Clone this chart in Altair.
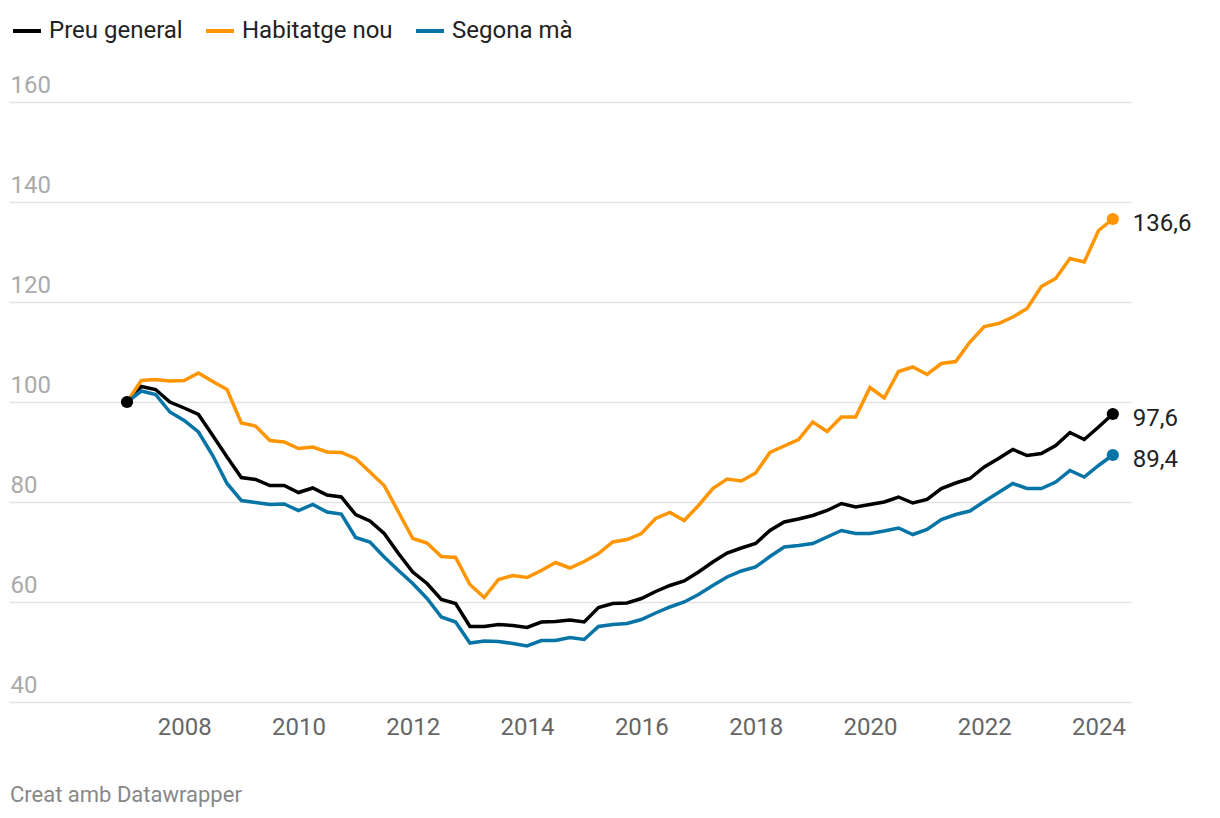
import altair as alt
import pandas as pd

series_names = ["Preu general", "Habitatge nou", "Segona mà"]
series_colors = ["#000000", "#ff9500", "#0774a6"]

# quarterly index, 2007 Q1 .. 2024 Q2
start_year = 2007

preu_general = [100, 103.1, 102.5, 100.0, 98.8, 97.5, 93.3, 89.0, 84.9, 84.5, 83.3, 83.3, 81.9, 82.8, 81.4, 81.0,
                77.5, 76.2, 73.7, 69.7, 66.0, 63.7, 60.5, 59.7, 55.1, 55.1, 55.5, 55.3, 54.9, 56.0, 56.1, 56.4,
                56.0, 58.9, 59.7, 59.8, 60.7, 62.1, 63.3, 64.2, 66.0, 68.0, 69.8, 70.8, 71.7, 74.3, 76.0, 76.6,
                77.3, 78.3, 79.7, 79.0, 79.5, 80.0, 81.0, 79.8, 80.5, 82.7, 83.8, 84.7, 87.0, 88.7, 90.5, 89.3,
                89.7, 91.3, 93.9, 92.5, 95.0, 97.6]
habitatge_nou = [100, 104.3, 104.5, 104.2, 104.3, 105.8, 104.1, 102.5, 95.8, 95.2, 92.3, 92.0, 90.7, 91.0, 90.0, 89.9,
                 88.7, 86.0, 83.3, 78.0, 72.7, 71.8, 69.1, 68.9, 63.5, 60.9, 64.5, 65.3, 64.9, 66.3, 67.9, 66.8,
                 68.1, 69.7, 72.0, 72.5, 73.7, 76.7, 77.9, 76.3, 79.3, 82.7, 84.6, 84.2, 85.8, 89.9, 91.2, 92.5,
                 96.0, 94.1, 97.0, 97.0, 102.9, 100.8, 106.1, 107.0, 105.5, 107.7, 108.1, 112.0, 115.1, 115.7, 117.0, 118.7,
                 123.1, 124.7, 128.7, 128.0, 134.3, 136.6]
segona_ma = [100, 102.2, 101.5, 98.0, 96.3, 94.0, 89.3, 83.7, 80.3, 79.9, 79.5, 79.6, 78.3, 79.5, 78.0, 77.6,
             72.9, 72.0, 69.0, 66.3, 63.7, 60.7, 57.0, 56.0, 51.8, 52.2, 52.1, 51.7, 51.2, 52.3, 52.3, 52.9,
             52.5, 55.1, 55.5, 55.7, 56.5, 57.8, 59.0, 60.0, 61.5, 63.3, 65.0, 66.2, 67.0, 69.1, 71.0, 71.3,
             71.7, 73.0, 74.3, 73.7, 73.7, 74.2, 74.8, 73.5, 74.5, 76.5, 77.5, 78.2, 80.1, 81.9, 83.7, 82.7,
             82.7, 84.0, 86.3, 85.0, 87.3, 89.4]

y_ticks = [40, 60, 80, 100, 120, 140, 160]
x_ticks = [2008, 2010, 2012, 2014, 2016, 2018, 2020, 2022, 2024]
credit = "Creat amb Datawrapper"

rows = []
for name, vals in zip(series_names, [preu_general, habitatge_nou, segona_ma]):
    for i, v in enumerate(vals):
        pos = "first" if i == 0 else ("last" if i == len(vals) - 1 else "")
        rows.append({"t": start_year + i * 0.25, "serie": name, "value": v, "pos": pos,
                     "label": f"{v:.1f}".replace(".", ",")})
df = pd.DataFrame(rows)

FONT = "Roboto"
x_enc = alt.X("t:Q", scale=alt.Scale(domain=[2004.935, 2024.568], nice=False, zero=False),
              axis=alt.Axis(values=x_ticks, format="d", grid=False, domain=False, ticks=False,
                            labelFontSize=24, labelColor="#666666", labelFont=FONT, labelPadding=13,
                            title=None))
y_enc = alt.Y("value:Q", scale=alt.Scale(domain=[40, 160], nice=False, zero=False),
              axis=alt.Axis(values=y_ticks, grid=True, gridColor="#e3e3e3", gridWidth=1.6,
                            domain=False, ticks=False, labelAlign="left", labelBaseline="alphabetic",
                            labelPadding=-1, labelOffset=-10, labelFontSize=24, labelColor="#aaaaaa",
                            labelFont=FONT, title=None))
color_scale = alt.Scale(domain=series_names, range=series_colors)

base = alt.Chart(df)

lines = base.mark_line(strokeWidth=3.5).encode(
    x=x_enc, y=y_enc,
    color=alt.Color("serie:N", scale=color_scale,
                    legend=alt.Legend(orient="none", legendX=2, legendY=-87, direction="horizontal",
                                      title=None, symbolType="stroke", symbolStrokeWidth=4,
                                      symbolSize=784, labelFontSize=24, labelFont=FONT,
                                      labelColor="#222222", labelOffset=6, columnPadding=15,
                                      labelLimit=400, padding=0)),
    order=alt.Order("t:Q"),
)

start_dot = base.transform_filter(
    (alt.datum.pos == "first") & (alt.datum.serie == "Preu general")
).mark_circle(size=150, opacity=1).encode(x=x_enc, y=y_enc,
                                          color=alt.Color("serie:N", scale=color_scale, legend=None))

end_dots = base.transform_filter(alt.datum.pos == "last").mark_circle(size=150, opacity=1).encode(
    x=x_enc, y=y_enc, color=alt.Color("serie:N", scale=color_scale, legend=None))

end_labels = base.transform_filter(alt.datum.pos == "last").mark_text(
    align="left", baseline="middle", dx=20, dy=5, fontSize=24, font=FONT, color="#222222"
).encode(x=x_enc, y=y_enc, text="label:N")

chart = alt.layer(lines, start_dot, end_dots, end_labels).properties(
    width=1122, height=600,
    autosize=alt.AutoSizeParams(type="none"),
    padding={"left": 1, "top": 94, "right": 78, "bottom": 110},
    title=alt.TitleParams(credit, orient="bottom", anchor="start", fontSize=22, font=FONT,
                          fontWeight="normal", color="#888888", offset=46, dx=1),
).configure(background="white").configure_view(strokeWidth=0, stroke="transparent")

chart.save("out.html", embed_options={"renderer": "svg", "actions": False})
